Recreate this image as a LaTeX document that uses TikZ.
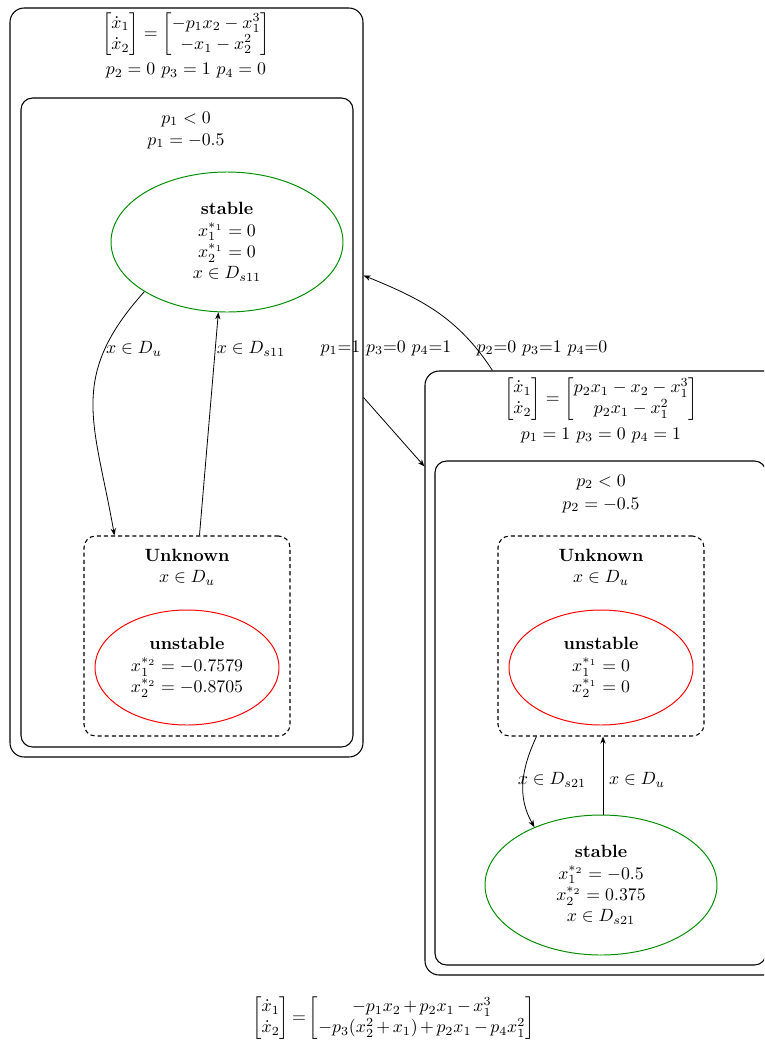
\documentclass[tikz,border=0pt]{standalone}
\usepackage{amsmath}
\usetikzlibrary{shapes.geometric,arrows.meta,calc}
\begin{document}
\begin{tikzpicture}[x=0.563pt,y=-0.563pt,
 outerbox/.style={draw, line width=0.6pt, rounded corners=8pt, rectangle, inner sep=0pt},
 innerbox/.style={draw, line width=0.6pt, rounded corners=6.5pt, rectangle, inner sep=0pt},
 dashbox/.style={draw, dash pattern=on 2.3pt off 1.7pt, line width=0.6pt, rounded corners=6.5pt, rectangle, inner sep=0pt, minimum width=206*0.563pt, minimum height=200*0.563pt},
 stab/.style={ellipse, draw=green!55!black, line width=0.55pt, inner sep=0pt, align=center, minimum width=232*0.563pt, minimum height=140*0.563pt},
 unstab/.style={ellipse, draw=red, line width=0.55pt, inner sep=0pt, align=center, minimum width=184*0.563pt, minimum height=115*0.563pt},
 txt/.style={inner sep=0pt, align=center},
 arr/.style={-{Stealth[length=4pt,width=3pt]}, line width=0.45pt}]
\clip (0,0) rectangle (764,1043);

% left system
\node[outerbox, minimum width=353*0.563pt, minimum height=749*0.563pt] (L) at (186.5,382.5) {};
\node[txt] (eqL) at (186,34.5) {$\begin{bmatrix}\dot{x}_1\\ \dot{x}_2\end{bmatrix}=\begin{bmatrix}-p_1x_2-x_1^3\\ -x_1-x_2^2\end{bmatrix}$};
\node[txt] (parL) at (186,71) {$p_2=0$ $p_3=1$ $p_4=0$};
\node[innerbox, minimum width=332*0.563pt, minimum height=649*0.563pt] (Li) at (187,422.5) {};
\node[txt] (cL1) at (186,119) {$p_1<0$};
\node[txt] (cL2) at (186,141) {$p_1=-0.5$};
\node[stab] (g1) at (227,242) {\textbf{stable}\\ $x_1^{*_1}=0$\\ $x_2^{*_1}=0$\\ $x\in D_{s11}$};
\node[dashbox] (u1) at (187,636) {};
\node[txt] (u1a) at (187,555) {\textbf{Unknown}};
\node[txt] (u1b) at (187,578) {$x\in D_u$};
\node[unstab] (r1) at (187,667.5) {\textbf{unstable}\\ $x_1^{*_2}=-0.7579$\\ $x_2^{*_2}=-0.8705$};

\draw[arr] (g1.211) to[out=228,in=100,looseness=1.2] ($(u1.north west)+(31,0)$);
\draw[arr] ($(u1.north west)+(116,0)$) -- (g1.263);
\node[txt] (l1) at (134,349) {$x\in D_u$};
\node[txt] (l2) at (251,349) {$x\in D_{s11}$};

% right system
\node[outerbox, minimum width=365*0.563pt, minimum height=604*0.563pt] (R) at (607.5,673) {};
\node[txt] (eqR) at (601,399) {$\begin{bmatrix}\dot{x}_1\\ \dot{x}_2\end{bmatrix}=\begin{bmatrix}p_2x_1-x_2-x_1^3\\ p_2x_1-x_1^2\end{bmatrix}$};
\node[txt] (parR) at (601,435) {$p_1=1$ $p_3=0$ $p_4=1$};
\node[innerbox, minimum width=331*0.563pt, minimum height=504*0.563pt] (Ri) at (600.5,713) {};
\node[txt] (cR1) at (601,482) {$p_2<0$};
\node[txt] (cR2) at (601,505) {$p_2=-0.5$};
\node[dashbox] (u2) at (601,636) {};
\node[txt] (u2a) at (601,555) {\textbf{Unknown}};
\node[txt] (u2b) at (601,578) {$x\in D_u$};
\node[unstab] (r2) at (601,667.5) {\textbf{unstable}\\ $x_1^{*_1}=0$\\ $x_2^{*_1}=0$};
\node[stab] (g2) at (601,885) {\textbf{stable}\\ $x_1^{*_2}=-0.5$\\ $x_2^{*_2}=0.375$\\ $x\in D_{s21}$};

\draw[arr] ($(u2.south west)+(39,0)$) to[out=245,in=120] (g2.139);
\draw[arr] ($(g2.north)+(2,0)$) -- ($(u2.south)+(2,0)$);
\node[txt] (l3) at (552,780) {$x\in D_{s21}$};
\node[txt] (l4) at (637,780) {$x\in D_u$};

% transitions between systems
\draw[arr] ($(R.north west)+(68,0)$) to[out=123,in=-22] ($(L.north east)+(0,268)$);
\draw[arr] ($(L.north east)+(0,390)$) -- ($(R.north west)+(0,96)$);
\node[txt] (t1) at (386,348) {$p_1{=}1$ $p_3{=}0$ $p_4{=}1$};
\node[txt] (t2) at (542,348) {$p_2{=}0$ $p_3{=}1$ $p_4{=}0$};

% general system
\node[txt] (eqG) at (393.5,1018) {\medmuskip=2.5mu $\begin{bmatrix}\dot{x}_1\\ \dot{x}_2\end{bmatrix}{=}\begin{bmatrix}-p_1x_2+p_2x_1-x_1^3\\ -p_3(x_2^2+x_1)+p_2x_1-p_4x_1^2\end{bmatrix}$};
\end{tikzpicture}
\end{document}
